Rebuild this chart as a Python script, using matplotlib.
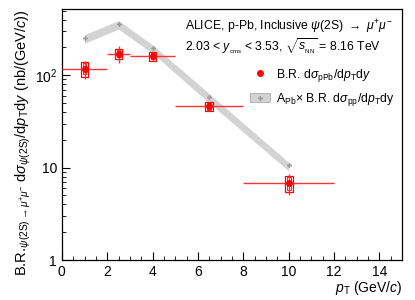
import numpy as np
import matplotlib
matplotlib.use("Agg")
import matplotlib.pyplot as plt
from matplotlib.patches import Rectangle, Patch
from matplotlib.lines import Line2D
from matplotlib.ticker import LogLocator, MultipleLocator, FixedLocator, FixedFormatter

plt.rcParams["font.family"] = ["Liberation Sans", "DejaVu Sans"]
plt.rcParams["mathtext.fontset"] = "custom"
plt.rcParams["mathtext.rm"] = "Liberation Sans"
plt.rcParams["mathtext.it"] = "Liberation Sans:italic"
plt.rcParams["mathtext.bf"] = "Liberation Sans:bold"

# p-Pb measurement
pt = [1.0, 2.5, 4.0, 6.5, 10.0]
pt_lo = [0.0, 2.0, 3.0, 5.0, 8.0]
pt_hi = [2.0, 3.0, 5.0, 8.0, 12.0]
xsec = [118.0, 171.0, 160.0, 46.0, 6.8]
stat = [26.0, 35.0, 17.0, 5.5, 1.7]
syst = [22.0, 20.0, 17.0, 5.5, 1.4]
syst_corr = [16.0, 15.0, 12.0, 4.0, 1.1]

# A_Pb x pp reference
ref_pt = [1.0, 2.5, 4.0, 6.5, 10.0]
ref_val = [255.0, 361.0, 197.0, 58.0, 10.6]
ref_up = [275.0, 390.0, 213.0, 63.0, 11.4]
ref_dn = [222.0, 315.0, 172.0, 50.0, 9.2]

red = "#ff0000"
fig = plt.figure(figsize=(4.15, 3.0), dpi=100)
ax = fig.add_axes([0.149, 0.133, 0.820, 0.837])

ax.fill_between(ref_pt, ref_dn, ref_up, color="#d3d3d3", lw=0, zorder=1)
ax.plot(ref_pt, ref_val, ls="none", marker="P", ms=3.5, color="#999999",
        mec="none", zorder=2)

xerr = [np.array(pt) - np.array(pt_lo), np.array(pt_hi) - np.array(pt)]
ax.errorbar(pt, xsec, xerr=xerr, yerr=stat, fmt="o", ms=4, color=red,
            ecolor="#ff3333", elinewidth=1.0, capsize=0, zorder=4)
for x, y, s, sc in zip(pt, xsec, syst, syst_corr):
    ax.add_patch(Rectangle((x - 0.17, y - s), 0.34, 2 * s, fill=False,
                           ec=red, lw=0.9, zorder=3))
    ax.add_patch(Rectangle((x - 0.08, y - sc), 0.16, 2 * sc, fill=False,
                           ec=red, lw=0.6, zorder=3))

ax.set_xlim(0, 15)
ax.set_yscale("log")
ax.set_ylim(1, 520)
ax.xaxis.set_major_locator(MultipleLocator(2))
ax.xaxis.set_minor_locator(MultipleLocator(0.5))
ax.yaxis.set_major_locator(FixedLocator([1, 10, 100]))
ax.yaxis.set_major_formatter(FixedFormatter(["1", "10", r"$10^{2}$"]))
ax.yaxis.set_minor_locator(LogLocator(base=10, subs=np.arange(2, 10)))
ax.yaxis.set_minor_formatter(FixedFormatter([]))
ax.tick_params(which="both", direction="in", labelsize=10, top=False, right=False)
ax.tick_params(which="major", length=6)
ax.tick_params(which="minor", length=3)
for sp in ax.spines.values():
    sp.set_linewidth(0.9)

ax.set_xlabel(r"$p_{\mathrm{T}}$ (GeV/$c$)", fontsize=10, ha="right", x=1.0,
              labelpad=0)
ax.set_ylabel(r"B.R.$_{\psi\mathrm{(2S)}\rightarrow\mu^{+}\mu^{-}}$ d$\sigma_{\psi\mathrm{(2S)}}$/d$p_{\mathrm{T}}$d$y$ (nb/(GeV/$c$))",
              fontsize=10.5, ha="right", y=1.0, labelpad=1)

ax.text(0.362, 0.928, r"ALICE, p-Pb, Inclusive $\psi$(2S) $\rightarrow$ $\mu^{+}\mu^{-}$",
        transform=ax.transAxes, fontsize=8.8, va="center")
ax.text(0.362, 0.853, r"2.03 < $y_{_{\mathrm{cms}}}$ < 3.53, $\sqrt{s_{_{\mathrm{NN}}}}$ = 8.16 TeV",
        transform=ax.transAxes, fontsize=8.8, va="center")

h1 = Line2D([], [], ls="none", marker="o", ms=4, color=red)
h2 = (Patch(fc="#d3d3d3", ec="#aaaaaa", lw=0.6),
      Line2D([], [], ls="none", marker="P", ms=3.5, color="#999999", mec="none"))
ax.legend([h1, h2], [r"B.R. d$\sigma_{\mathrm{pPb}}$/d$p_{\mathrm{T}}$d$y$",
                     r"A$_{\mathrm{Pb}}$$\times$ B.R. d$\sigma_{\mathrm{pp}}$/d$p_{\mathrm{T}}$dy"],
          loc="upper left", bbox_to_anchor=(0.54, 0.79), frameon=False,
          fontsize=8.8, handlelength=1.6, handletextpad=0.5, labelspacing=0.6,
          borderaxespad=0)

fig.savefig("out.png", dpi=100)
